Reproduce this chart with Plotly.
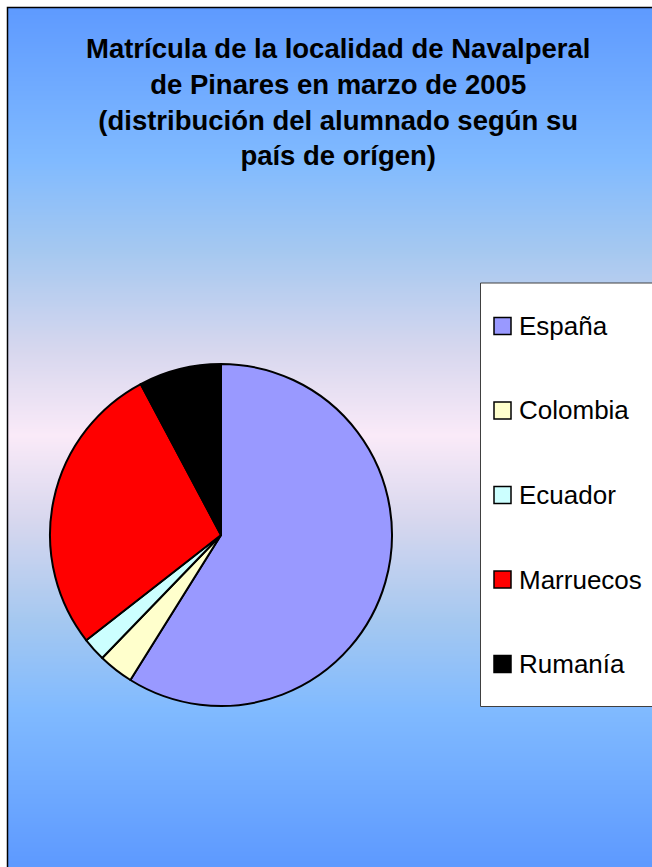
import numpy as np
import plotly.graph_objects as go

W, H = 652, 867

# ---- data ----
paises = ["España", "Colombia", "Ecuador", "Marruecos", "Rumanía"]
alumnos = [53, 3, 2, 25, 7]
colores = ["#9999FF", "#FFFFCC", "#CCFFFF", "#FF0000", "#000000"]
titulo_lineas = [
    "Matrícula de la localidad de Navalperal",
    "de Pinares en marzo de 2005",
    "(distribución del alumnado según su",
    "país de orígen)",
]

def px(x):
    return x / W

def py(y):
    return 1 - y / H

fig = go.Figure()

# gradient background (style only), y in screen pixels from top
grad_y = [7, 160, 250, 350, 435, 520, 620, 710, 863]
grad_c = ["#5E9AFF", "#80BAFF", "#A5C8F0", "#D7D7EE", "#FAEAF8",
          "#D7D7EE", "#A5C8F0", "#80BAFF", "#5E9AFF"]
zmin, zmax = grad_y[0], grad_y[-1]
cscale = [[(g - zmin) / (zmax - zmin), c] for g, c in zip(grad_y, grad_c)]
gy = np.linspace(0, 870, 120)
gz = [[v, v] for v in gy]
fig.add_trace(go.Heatmap(
    x=[0, 1], y=gy, z=gz, zmin=zmin, zmax=zmax, zsmooth="best",
    colorscale=cscale, showscale=False, hoverinfo="skip",
))

fig.add_trace(go.Pie(
    labels=paises, values=alumnos, sort=False, direction="clockwise", rotation=0,
    marker=dict(colors=colores, line=dict(color="#000000", width=2)),
    textinfo="none", hoverinfo="label+value+percent", showlegend=False,
    domain=dict(x=[px(50), px(392)], y=[py(706), py(364)]),
))

shapes = []
annotations = []

# chart border (left and top visible)
shapes.append(dict(type="rect", xref="paper", yref="paper",
                   x0=px(7.5), x1=px(720), y0=py(920), y1=py(7.5),
                   line=dict(color="#000000", width=1.5), fillcolor="rgba(0,0,0,0)"))

# legend box
shapes.append(dict(type="rect", xref="paper", yref="paper",
                   x0=px(480.5), x1=px(720), y0=py(706.5), y1=py(283),
                   line=dict(color="#404040", width=1), fillcolor="#FFFFFF"))

y_first, step = 326, 84.5
for i, (lab, col) in enumerate(zip(paises, colores)):
    yc = y_first + i * step
    shapes.append(dict(type="rect", xref="paper", yref="paper",
                       x0=px(494), x1=px(511), y0=py(yc + 8.5), y1=py(yc - 8.5),
                       line=dict(color="#000000", width=1.5), fillcolor=col))
    annotations.append(dict(text=lab, xref="paper", yref="paper",
                            x=px(517), y=py(yc), xanchor="left", yanchor="middle",
                            showarrow=False,
                            font=dict(family="Liberation Sans, Arial", size=26, color="#000000")))

annotations.append(dict(text="<br>".join(titulo_lineas), xref="paper", yref="paper",
                        x=px(338), y=py(31), xanchor="center", yanchor="top",
                        showarrow=False, align="center",
                        font=dict(family="Liberation Sans, Arial", size=27.5, color="#000000",
                                  weight="bold")))

fig.update_layout(
    width=W, height=H,
    margin=dict(l=0, r=0, t=0, b=0),
    paper_bgcolor="#FFFFFF",
    plot_bgcolor="rgba(0,0,0,0)",
    xaxis=dict(domain=[px(7), 1], range=[0, 1], visible=False, fixedrange=True),
    yaxis=dict(domain=[0, py(7)], range=[867, 7], visible=False, fixedrange=True),
    shapes=shapes,
    annotations=annotations,
    showlegend=False,
)

fig.write_html(
    "out.html",
    config={"displayModeBar": False},
    post_script="document.body.style.margin='0';document.body.style.overflow='hidden';",
)
